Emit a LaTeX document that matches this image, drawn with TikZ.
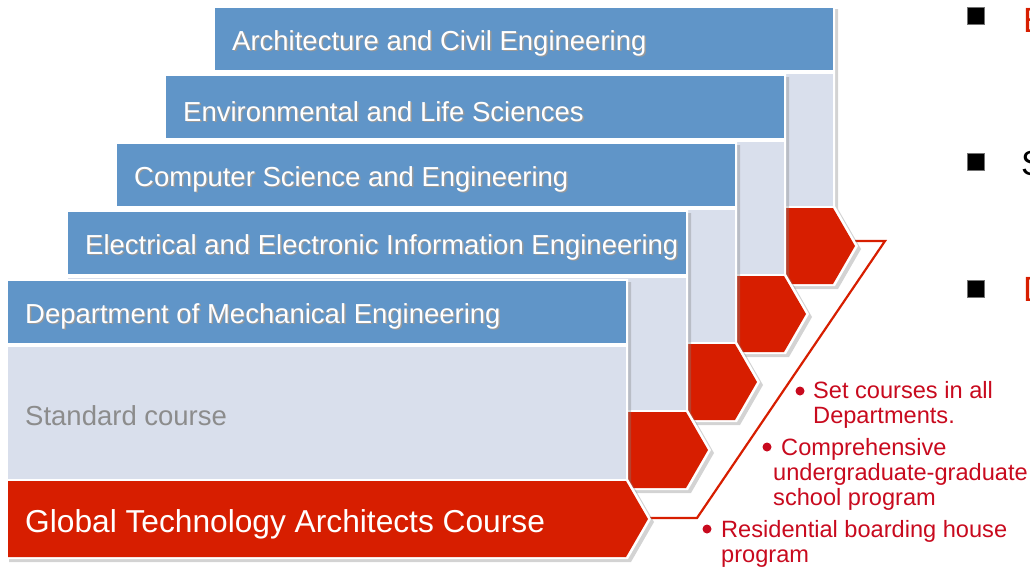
\documentclass[tikz,border=0pt]{standalone}
\usepackage{fontspec}
\setmainfont{Liberation Sans}
\usetikzlibrary{shadows}

\definecolor{hdrblue}{RGB}{96,149,200}
\definecolor{bandgray}{RGB}{217,223,236}
\definecolor{gtared}{RGB}{215,30,0}
\definecolor{notered}{RGB}{200,10,30}

% white text with a soft gray copy behind it
\newcommand{\shtext}[1]{\makebox[0pt][l]{\hspace{1.5pt}\raisebox{-1.5pt}{\color{black!40}#1}}#1}

\tikzset{
  cardback/.style={fill=white,drop shadow={opacity=0.35,shadow xshift=3pt,shadow yshift=-3pt}},
  hdrtext/.style={anchor=west,inner sep=0pt,text=white,font=\fontsize{27.5}{30}\selectfont},
  notetext/.style={anchor=base west,inner sep=0pt,align=left,text=notered,font=\fontsize{23.6}{24.6}\selectfont},
  sqmark/.style={fill=black,draw=black!55,line width=0.6pt,minimum size=17pt,inner sep=0pt},
  sidetext/.style={anchor=base west,inner sep=0pt,font=\fontsize{35}{38}\selectfont},
}

\begin{document}
\begin{tikzpicture}[x=1pt,y=-1pt]
  \useasboundingbox (0,0) rectangle (1030,570);

  % bracket round the red arrows
  \coordinate (lowbend) at (697,518);
  \coordinate (highbend) at (885,241);
  \draw[gtared,line width=2.2pt] (649,518) -- (lowbend) -- (highbend) -- (855,241);

  % cards, back to front
  \foreach \lx/\ty/\nm/\title in {
      215/8/arch/Architecture and Civil Engineering,
      166/76/env/Environmental and Life Sciences,
      117/144/cs/Computer Science and Engineering,
      68/212/ee/Electrical and Electronic Information Engineering,
      8/281/me/Department of Mechanical Engineering}
  {
    \pgfmathsetmacro{\rx}{\lx+618}
    \fill[cardback] (\lx-2,\ty-2) -- (\rx+2,\ty-2) -- (\rx+2,\ty+198) -- (\rx+25,\ty+238)
        -- (\rx+2,\ty+278) -- (\lx-2,\ty+278) -- cycle;
    \fill[hdrblue] (\lx,\ty) rectangle (\rx,\ty+62);
    \fill[bandgray] (\lx,\ty+66) rectangle (\rx,\ty+198);
    \fill[gtared] (\lx,\ty+200) -- (\rx,\ty+200) -- (\rx+22,\ty+238) -- (\rx,\ty+276)
        -- (\lx,\ty+276) -- cycle;
    \coordinate (\nm tip) at (\rx+22,\ty+238);
    \node[hdrtext] (\nm) at (\lx+17,\ty+36) {\shtext{\title}};
  }

  \node[anchor=west,inner sep=0pt,text=black!45,font=\fontsize{27.5}{30}\selectfont]
      (std) at (25,416) {Standard course};
  \node[anchor=west,inner sep=0pt,text=white,font=\fontsize{31.7}{34}\selectfont]
      (gta) at (25,524) {Global Technology Architects Course};

  % notes
  \fill[notered] (800,391) circle (4.5);
  \node[notetext] (note1) at (813,423) {Set courses in all\\Departments.};
  \fill[notered] (767,447) circle (4.5);
  \node[notetext] (note2) at (773,505)
      {\hspace*{8pt}Comprehensive\\undergraduate-graduate\\school program};
  \fill[notered] (707,529) circle (4.5);
  \node[notetext] (note3) at (721,562) {Residential boarding house\\program};

  % right hand list (cut off)
  \node[sqmark] (sq1) at (975.5,15.5) {};
  \node[sqmark] (sq2) at (975.5,162) {};
  \node[sqmark] (sq3) at (975.5,289) {};
  \node[sidetext,text=gtared] (side1) at (1023,32) {E};
  \node[sidetext,text=black] (side2) at (1021,175) {S};
  \node[sidetext,text=gtared] (side3) at (1023,301) {D};
\end{tikzpicture}
\end{document}
